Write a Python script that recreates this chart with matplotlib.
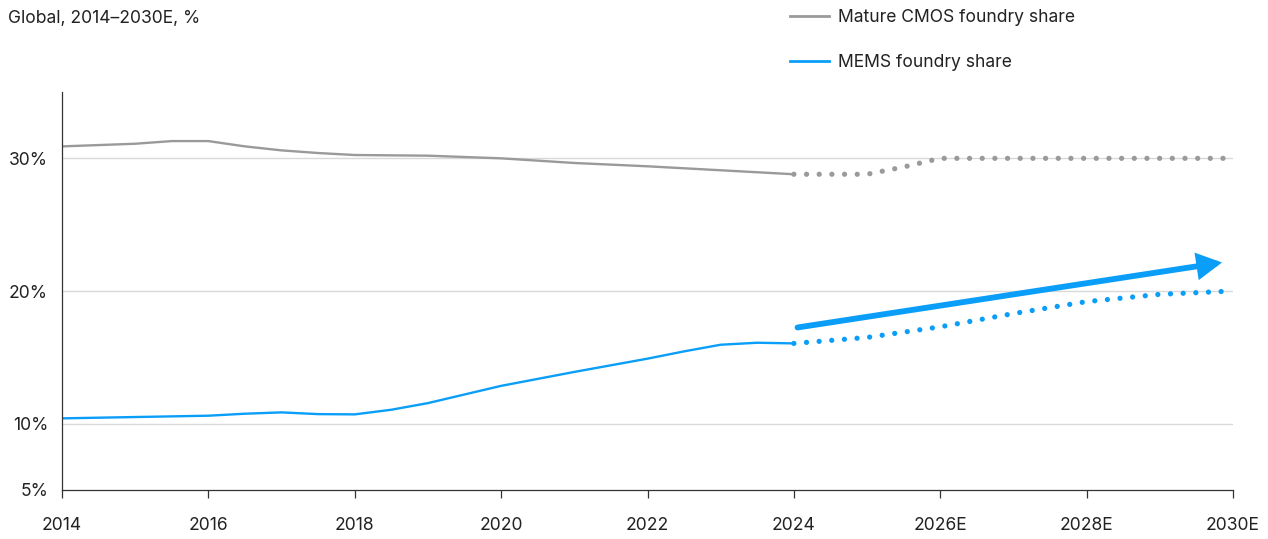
import matplotlib.pyplot as plt
from matplotlib.patches import FancyArrowPatch
from matplotlib.lines import Line2D

plt.rcParams['font.family'] = ['Inter', 'DejaVu Sans']
plt.rcParams['font.size'] = 12.6

# Mature CMOS foundry share, %
cmos_years = [2014, 2015, 2015.5, 2016, 2016.5, 2017, 2017.5, 2018, 2019,
              2020, 2021, 2022, 2023, 2024]
cmos_share = [30.9, 31.1, 31.3, 31.3, 30.9, 30.6, 30.4, 30.25, 30.2,
              30.0, 29.65, 29.4, 29.1, 28.8]
cmos_fc_years = [2024, 2025, 2025.5, 2026, 2027, 2028, 2029, 2030]
cmos_fc_share = [28.8, 28.8, 29.35, 30.0, 30.0, 30.0, 30.0, 30.0]

# MEMS foundry share, %
mems_years = [2014, 2015, 2016, 2016.5, 2017, 2017.5, 2018, 2018.5, 2019,
              2020, 2021, 2022, 2022.5, 2023, 2023.5, 2024]
mems_share = [10.4, 10.5, 10.6, 10.75, 10.85, 10.72, 10.7, 11.05, 11.55,
              12.85, 13.9, 14.9, 15.45, 15.95, 16.1, 16.05]
mems_fc_years = [2024, 2025, 2026, 2027, 2028, 2029, 2030]
mems_fc_share = [16.05, 16.5, 17.3, 18.3, 19.2, 19.75, 20.0]

# trend arrow (start, end)
trend_start = (2024.05, 17.25)
trend_end = (2029.85, 22.15)

tick_years = [2014, 2016, 2018, 2020, 2022, 2024, 2026, 2028, 2030]
tick_labels = ["2014", "2016", "2018", "2020", "2022", "2024", "2026E", "2028E", "2030E"]
y_ticks = [5, 10, 20, 30]
y_labels = ["5%", "10%", "20%", "30%"]

grey = "#9a9a9a"
blue = "#0a9ef8"
ink = "#222222"

fig = plt.figure(figsize=(12.68, 5.39), dpi=100)
ax = fig.add_axes([62 / 1268, 49 / 539, 1171 / 1268, 398 / 539])

ax.plot(cmos_years, cmos_share, color=grey, lw=1.7, solid_capstyle="round")
ax.plot(cmos_fc_years, cmos_fc_share, color=grey, lw=3.8,
        linestyle=(0, (0.001, 2.4)), dash_capstyle="round")
ax.plot(mems_years, mems_share, color=blue, lw=1.7, solid_capstyle="round")
ax.plot(mems_fc_years, mems_fc_share, color=blue, lw=3.8,
        linestyle=(0, (0.001, 2.4)), dash_capstyle="round")

arrow = FancyArrowPatch(trend_start, trend_end,
                        arrowstyle="-|>,head_length=12,head_width=6.5",
                        mutation_scale=1, lw=4.2, color=blue,
                        capstyle="round", joinstyle="miter", shrinkA=0, shrinkB=0)
ax.add_patch(arrow)

ax.set_xlim(2014, 2030)
ax.set_ylim(5, 35)
ax.set_xticks(tick_years)
ax.set_xticklabels(tick_labels, color=ink)
ax.set_yticks(y_ticks)
ax.set_yticklabels(y_labels, color=ink)
ax.tick_params(axis="x", length=5.5, width=0.9, color="#333333", pad=14)
ax.tick_params(axis="y", length=0, pad=10)

for v in y_ticks[1:]:
    ax.axhline(v, color="#d9d9d9", lw=1, zorder=0)

for side in ["top", "right"]:
    ax.spines[side].set_visible(False)
for side in ["left", "bottom"]:
    ax.spines[side].set_color("#333333")
    ax.spines[side].set_linewidth(0.9)

fig.text(8 / 1268, 1 - 18 / 539, "Global, 2014\u20132030E, %", color=ink,
         ha="left", va="center")

handles = [Line2D([], [], color=grey, lw=2),
           Line2D([], [], color=blue, lw=2)]
fig.legend(handles, ["Mature CMOS foundry share", "MEMS foundry share"],
           loc="upper left", bbox_to_anchor=(790 / 1268, 1 - 9 / 539),
           frameon=False, borderaxespad=0, borderpad=0, handlelength=2.2,
           handletextpad=0.55, labelspacing=1.62, labelcolor=ink)

fig.savefig("out.png", dpi=100)
